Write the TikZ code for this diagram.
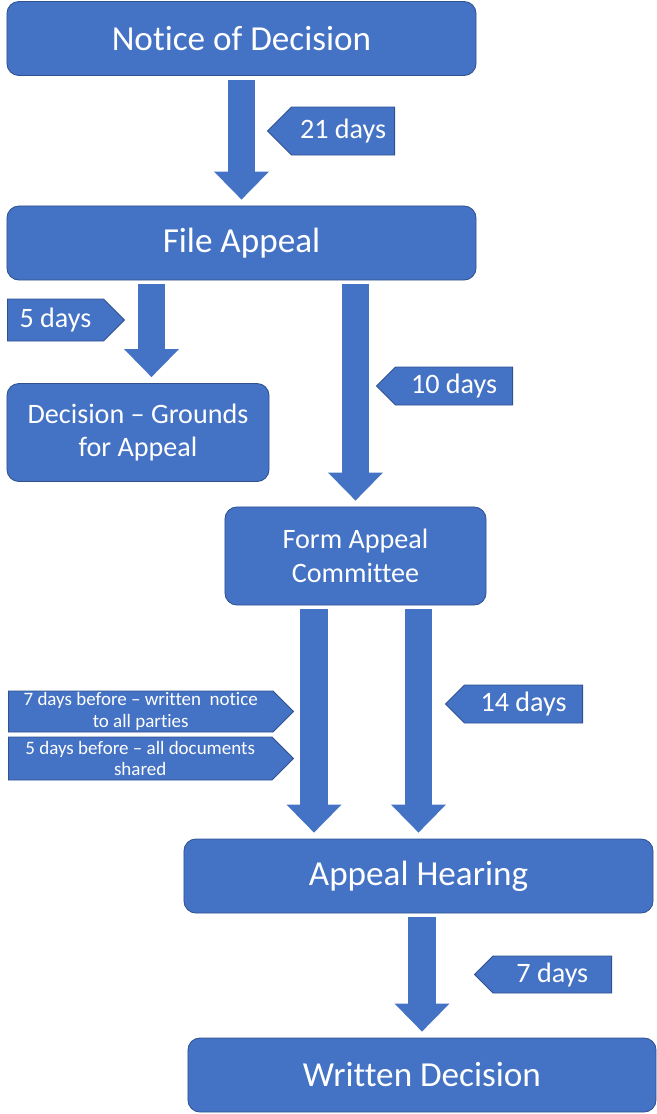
\documentclass[tikz,border=0pt]{standalone}
\usepackage{fontspec}
\setmainfont[Ligatures=NoCommon]{Carlito}
\usetikzlibrary{arrows.meta,shapes.symbols}
\definecolor{boxblue}{HTML}{4472C4}
\definecolor{boxline}{HTML}{2F528F}

\begin{document}
\begin{tikzpicture}[x=0.025cm, y=-0.025cm,
        stage/.style={draw=boxline, fill=boxblue, line width=0.6pt, rounded corners=0.3cm, text=white, align=center, inner sep=0pt},
        bigstage/.style={stage, font=\fontsize{25}{30}\selectfont, minimum width=11.725cm, minimum height=1.85cm},
        midstage/.style={stage, font=\fontsize{20}{24}\selectfont, minimum width=6.55cm, minimum height=2.45cm},
        tag/.style={signal, signal pointer angle=90, draw=boxline, fill=boxblue, line width=0.6pt, text=white, align=center, inner sep=0pt, font=\fontsize{20}{24}\selectfont},
        smalltag/.style={tag, font=\fontsize{13.5}{15.5}\selectfont},
        flow/.style={draw=boxblue, line width=0.675cm, shorten <=0.1cm, shorten >=0.15cm, -{Triangle[width=1.375cm, length=0.7cm, line width=0pt]}}]
        \useasboundingbox (0,0) rectangle (657,1114);

        \node[bigstage] (notice) at (241.5,38.5) {Notice of Decision};
        \node[bigstage] (file) at (241.5,243) {File Appeal};
        \node[midstage] (grounds) at (138,432.5) {Decision -- Grounds\\for Appeal};
        \node[midstage, minimum width=6.525cm] (form) at (355.5,556) {Form Appeal\\Committee};
        \node[bigstage] (hearing) at (418.5,876) {Appeal Hearing};
        \node[bigstage, minimum width=11.7cm] (written) at (422,1075) {Written Decision};

        \node[tag, signal to=west, anchor=east, minimum width=3.175cm, minimum height=1.2cm] (d21) at (395,131) {21 days};
        \node[tag, signal to=east, anchor=west, minimum width=2.925cm, minimum height=1.05cm] (d5) at (7,320) {5 days};
        \node[tag, signal to=west, anchor=east, minimum width=3.4cm, minimum height=0.95cm] (d10) at (513,386) {10 days};
        \node[smalltag, signal to=east, anchor=west, minimum width=7.125cm, minimum height=1.025cm] (before7) at (8,711.5) {7 days before -- written\ \ notice\\to all parties};
        \node[smalltag, signal to=east, anchor=west, minimum width=7.125cm, minimum height=1.075cm] (before5) at (8,758.5) {5 days before -- all documents\\shared};
        \node[tag, signal to=west, anchor=east, minimum width=3.425cm, minimum height=0.95cm] (d14) at (583,704) {14 days};
        \node[tag, signal to=west, anchor=east, minimum width=3.425cm, minimum height=0.925cm] (d7) at (612,974.5) {7 days};

        \coordinate (lane5) at (151.5,0);
        \coordinate (lane7) at (314,0);

        \draw[flow] (notice) -- (file);
        \draw[flow] (file.south -| lane5) -- (grounds.north -| lane5);
        \draw[flow] (file.south -| form.north) -- (form.north);
        \draw[flow] (form.south -| lane7) -- (hearing.north -| lane7);
        \draw[flow] (form.south -| hearing.north) -- (hearing.north);
        \draw[flow] (hearing.south -| written.north) -- (written.north);
    \end{tikzpicture}
\end{document}
